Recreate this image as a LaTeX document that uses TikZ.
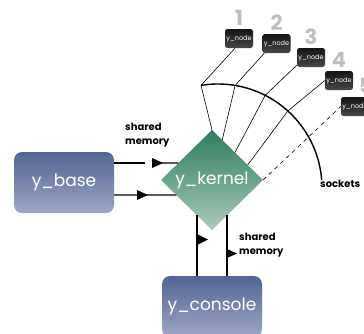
\documentclass[tikz,border=0pt]{standalone}
\usepackage{fontspec}
\setmainfont{Poppins}
\usepackage{tikz}
\usetikzlibrary{shapes.geometric,calc,positioning}
\definecolor{boxtop}{RGB}{80,102,146}
\definecolor{boxbot}{RGB}{158,166,197}
\definecolor{kertop}{RGB}{44,126,94}
\definecolor{kerbot}{RGB}{172,201,187}
\definecolor{numgray}{RGB}{190,190,190}

\begin{document}
\begin{tikzpicture}[x=1pt,y=1pt,
  proc/.style={rounded corners=8pt, minimum width=100pt, minimum height=61pt, top color=boxtop, bottom color=boxbot, text=white, font=\fontsize{17}{20}\selectfont},
  ynode/.style={rounded corners=2.5pt, minimum width=28pt, minimum height=19pt, inner sep=0pt, top color=black!92, bottom color=black!72, text=white, font=\fontsize{6.5}{7}\selectfont},
  num/.style={text=numgray, font=\fontsize{21}{21}\selectfont\bfseries, inner sep=0pt},
  lbl/.style={align=left, font=\fontsize{10}{14}\selectfont\bfseries, inner sep=0pt, anchor=north west},
  link/.style={line width=1.1pt},
  wire/.style={line width=0.6pt}]
\useasboundingbox (0,0) rectangle (364,333);
\clip (0,0) rectangle (364,333);

\node[proc] (base) at (64,150.5) {y\_base};
\node[proc] (console) at (212,26.5) {y\_console};
\node[diamond, minimum width=102pt, minimum height=100pt, inner sep=0pt, outer sep=0pt, top color=kertop, bottom color=kerbot, text=white, font=\fontsize{17}{20}\selectfont] (kernel) at (212,153) {y\_kernel};

\node[ynode] (n1) at (239,294.5) {y\_node};
\node[ynode] (n2) at (276.5,289.5) {y\_node};
\node[ynode] (n3) at (311,275.5) {y\_node};
\node[ynode] (n4) at (339,252.5) {y\_node};
\node[ynode] (n5) at (355,226.5) {y\_node};
\node[num, above=3pt of n1] (c1) {1};
\node[num, above=3pt of n2] (c2) {2};
\node[num, above=3pt of n3] (c3) {3};
\node[num, above=3pt of n4] (c4) {4};
\node[num, above=3pt of n5, xshift=11pt] (c5) {5};

\node[lbl] (mem1) at (125,210) {shared\\memory};
\node[lbl] (mem2) at (239,100.5) {shared\\memory};
\node[lbl] (sock) at (320,153.5) {sockets};

% sockets
\coordinate (sc) at (218,145);
\draw[line width=1.4pt] (sc) ++(99.4:104) arc[start angle=99.4, end angle=4.4, radius=104pt];
\path (sc) ++(99.4:104) coordinate (s1) (sc) ++(80.5:104) coordinate (s2)
      (sc) ++(63:104) coordinate (s3) (sc) ++(47.8:104) coordinate (s4);
\draw[wire] (kernel.north) -- (s1) -- ([xshift=-4pt]n1.south);
\draw[wire] ($(kernel.north)!0.2!(kernel.east)$) -- (s2) -- ([xshift=2pt]n2.south west);
\draw[wire] ($(kernel.north)!0.45!(kernel.east)$) -- (s3) -- ([yshift=2pt]n3.south west);
\draw[wire] ($(kernel.north)!0.7!(kernel.east)$) -- (s4) -- (n4.west);
\draw[wire, dash pattern=on 4pt off 4pt] (kernel.east) -- (n5.west);

% shared memory
\draw[link] ([yshift=19.5pt]base.east) -- ++(31,0);
\draw[link] (152,170) -- ($(kernel.west)!0.34!(kernel.north)$);
\fill (152,175) -- (163,170) -- (152,165) -- cycle;
\draw[link] ([yshift=-12.5pt]base.east) -- ($(kernel.west)!0.3!(kernel.south)$);
\fill (137,143) -- (148,138) -- (137,133) -- cycle;
\coordinate (kl) at ($(kernel.south)!0.294!(kernel.west)$);
\coordinate (kr) at ($(kernel.south)!0.294!(kernel.east)$);
\draw[link] (kl) -- (kl |- console.north);
\draw[link] (kr) -- (kr |- console.north);
\fill (197,99) -- (208,93.5) -- (197,88) -- cycle;
\fill (227,84) -- (237,79.5) -- (227,75) -- cycle;
\end{tikzpicture}
\end{document}
